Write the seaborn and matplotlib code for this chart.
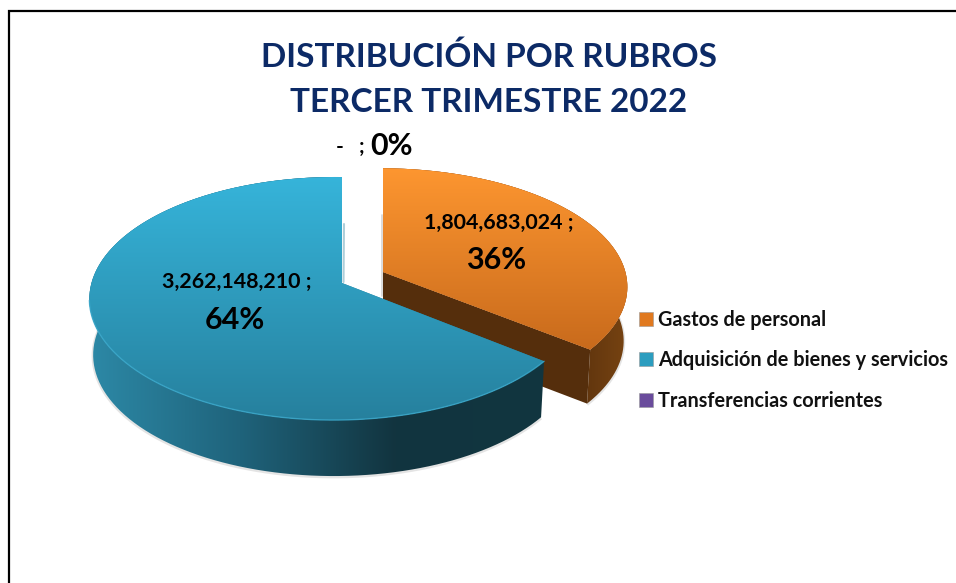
import numpy as np
import pandas as pd
import matplotlib
matplotlib.use("Agg")
import matplotlib.pyplot as plt
import seaborn as sns
from matplotlib.colors import LinearSegmentedColormap as LSC
from matplotlib.patches import Patch
from matplotlib.path import Path

# ---- data ----
categories = ["Gastos de personal", "Adquisición de bienes y servicios", "Transferencias corrientes"]
values = [1804683024, 3262148210, 0]
title_lines = ["DISTRIBUCIÓN POR RUBROS", "TERCER TRIMESTRE 2022"]
legend_colors = ["#e0791f", "#2c9dbf", "#6a4c9c"]

df = pd.DataFrame({"rubro": categories, "valor": values})
df["pct"] = df["valor"] / df["valor"].sum() * 100

sns.set_theme(style="white")
plt.rcParams["font.family"] = ["Lato", "DejaVu Sans"]

W, H = 956, 583
fig = plt.figure(figsize=(W / 100, H / 100), dpi=100, facecolor="white")
ax = fig.add_axes([0, 0, 1, 1])

wedges, _ = ax.pie(df["valor"], startangle=90, counterclock=False, radius=1)
ax.set_aspect("auto")

K = 0.1276
SHRINK = 0.985  # the lower rim recedes slightly towards the centre


def proj(theta, apex, A, B, hk):
    t = np.radians(theta)
    u, v = np.cos(t), -np.sin(t)
    w = 1 - K * v + hk * u
    return apex[0] + A * u / w, apex[1] + B * v / w


def gradient(cols, extent, horizontal, clip, z):
    g = np.linspace(0, 1, 256)
    arr = g[None, :] if horizontal else g[:, None]
    im = ax.imshow(arr, cmap=LSC.from_list("g", cols), extent=extent, aspect="auto",
                   origin="upper", zorder=z, vmin=0, vmax=1, interpolation="bilinear")
    im.set_clip_path(Path(clip), ax.transData)


styles = [
    dict(apex=(383, 272), A=246, B=117, hk=0.015, D=54, z=2,
         top=["#fd9630", "#c86a1c"], ty=(168, 352),
         side=["#552e0c", "#552e0c", "#552e0c", "#5a310d", "#7a4512"], sx=(378, 634)),
    dict(apex=(342, 283), A=243, B=119.5, hk=0.03, D=56, z=5,
         top=["#36b4da", "#26809d"], ty=(177, 421),
         side=["#2d8aa8", "#1f637b", "#12343f", "#113640"], sx=(84, 552)),
]

for w, s in zip(wedges[:2], styles):
    th = np.linspace(w.theta1, w.theta2, 240)
    x, y = proj(th, s["apex"], s["A"], s["B"], s["hk"])
    D, z = s["D"], s["z"]
    ax_, ay = s["apex"]
    xb = ax_ + (x - ax_) * SHRINK
    top = np.column_stack([np.r_[ax_, x, ax_], np.r_[ay, y, ay]])
    band = np.column_stack([np.r_[x, xb[::-1]], np.r_[y, (y + D)[::-1]]])
    # soft shadow under the front rim
    ax.plot(xb, y + D + 0.8, color="#888888", alpha=0.22, lw=2.2, zorder=z - 1.5, solid_capstyle="butt")
    gradient(s["side"], (s["sx"][0], s["sx"][1], s["ty"][1] + 70, s["ty"][0]), True, band, z)
    if z == 2:  # inner wall of the orange slice, seen through the gap
        i = np.argmin(th)
        wall = np.array([[ax_, ay], [x[i], y[i]], [xb[i], y[i] + D], [ax_, ay + D]])
        ax.fill(wall[:, 0], wall[:, 1], color="#552e0c", zorder=z + 0.1, lw=0)
    w.set(facecolor=s["top"][1], edgecolor="none", zorder=z + 0.2)
    w._path = Path(top)
    gradient(s["top"], (s["sx"][0], s["sx"][1], s["ty"][1], s["ty"][0]), False, top, z + 0.3)
wedges[2].set_visible(False)

# rim highlight and slim shadows beside the gap
bw = wedges[1]
st = styles[1]
th = np.linspace(bw.theta1, bw.theta2, 240)
x, y = proj(th, st["apex"], st["A"], st["B"], st["hk"])
front = y > 300
ax.plot(x[front], y[front], color="#3aa9cc", lw=1, alpha=0.8, zorder=5.5)
ax.plot([344, 343.5], [224, 282], color="#5e9fb4", lw=1.5, alpha=0.5, zorder=6)
ax.plot([382, 382], [215, 296], color="#c4c4c4", lw=1.2, alpha=0.7, zorder=1)

# outer frame
ax.plot([9, 9, W], [H, 10.5, 10.5], color="black", lw=1.6, zorder=8, solid_joinstyle="miter")

# title
for line, yy in zip(title_lines, [57, 103]):
    ax.text(489, yy, line, ha="center", va="center", color="#0c2a66",
            fontsize=24, fontweight="bold", zorder=9)

# data labels
lab = [(499, 223, 496, 260), (237, 282, 235, 320)]
for (vx, vy, px, py), v, p in zip(lab, df["valor"], df["pct"]):
    ax.text(vx, vy, f"{v:,} ;", ha="center", va="center", color="black",
            fontsize=15.4, fontweight="bold", zorder=9)
    ax.text(px, py, f"{p:.0f}%", ha="center", va="center", color="black",
            fontsize=22, fontweight="bold", zorder=9)
ax.text(340, 147, "-", ha="center", va="center", color="black", fontsize=15, fontweight="bold", zorder=9)
ax.text(362, 147, ";", ha="center", va="center", color="black", fontsize=15, fontweight="bold", zorder=9)
ax.text(392, 146, f"{df['pct'].iloc[2]:.0f}%", ha="center", va="center", color="black",
        fontsize=22, fontweight="bold", zorder=9)

# legend
handles = [Patch(facecolor=c, edgecolor="#999999", lw=0.4) for c in legend_colors]
leg = ax.legend(handles, categories, loc="upper left", bbox_to_anchor=(639, 309.5),
                bbox_transform=ax.transData, frameon=False, borderpad=0, borderaxespad=0,
                handlelength=0.7, handleheight=0.7, handletextpad=0.27, labelspacing=1.05,
                prop={"family": "Lato", "weight": "bold", "size": 14.3})
for t in leg.get_texts():
    t.set_color("#111111")

ax.set_xlim(0, W)
ax.set_ylim(H, 0)
ax.axis("off")
fig.savefig("out.png", dpi=100, facecolor="white")
